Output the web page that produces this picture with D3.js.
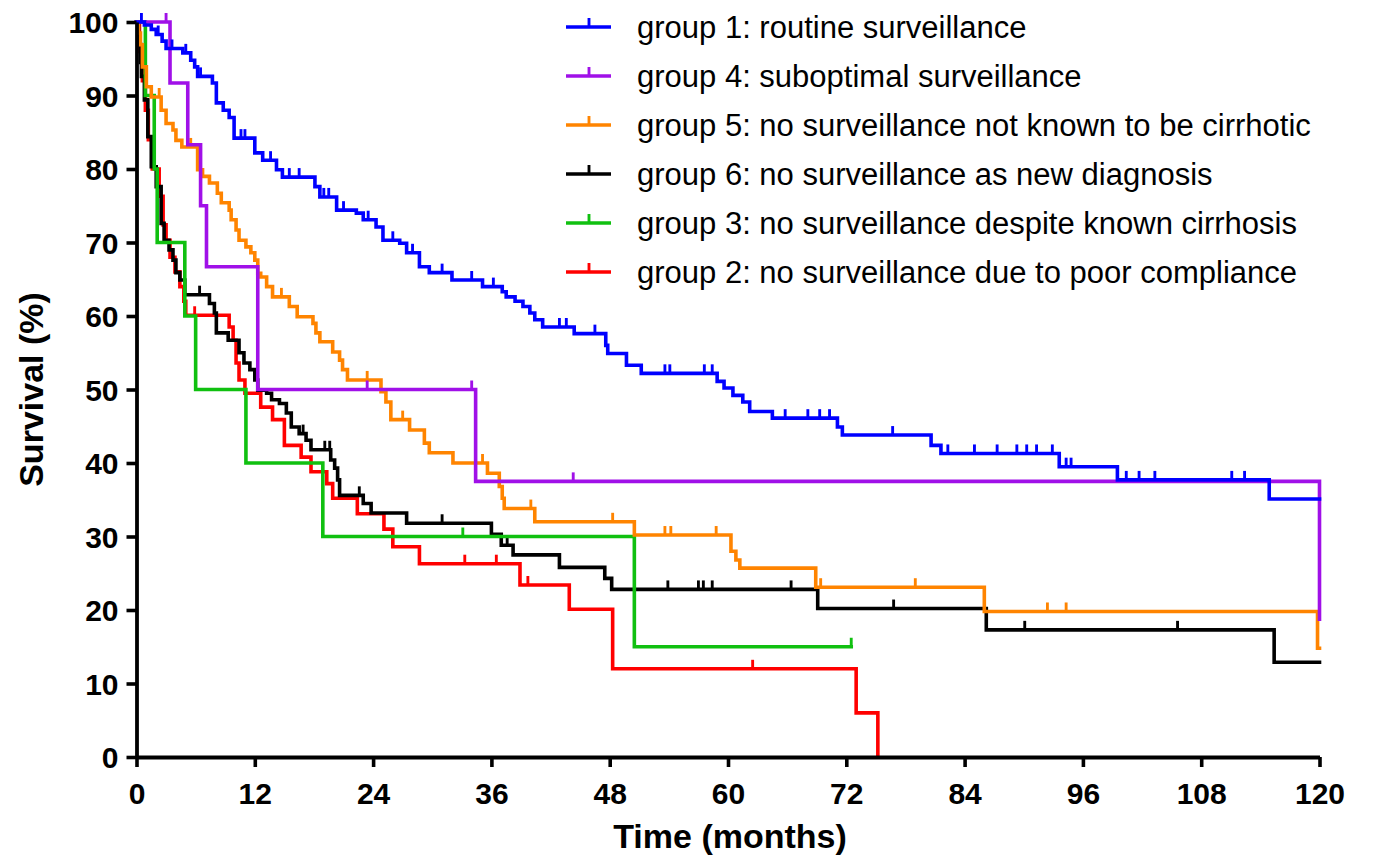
<!DOCTYPE html>
<html>
<head>
<meta charset="utf-8">
<script src="https://cdn.jsdelivr.net/npm/d3@7"></script>
<style>
  html, body { margin: 0; padding: 0; background: #fff; }
  svg { display: block; }
  text { font-family: "Liberation Sans", Arial, Helvetica, sans-serif; }
</style>
</head>
<body>
<svg id="chart" width="1375" height="860"></svg>
<script>
// ---------- data ----------
const xTicks = [0, 12, 24, 36, 48, 60, 72, 84, 96, 108, 120];
const yTicks = [0, 10, 20, 30, 40, 50, 60, 70, 80, 90, 100];
const xTitle = "Time (months)";
const yTitle = "Survival (%)";

const legendLabels = [
  "group 1: routine surveillance",
  "group 4: suboptimal surveillance",
  "group 5: no surveillance not known to be cirrhotic",
  "group 6: no surveillance as new diagnosis",
  "group 3: no surveillance despite known cirrhosis",
  "group 2: no surveillance due to poor compliance"
];
const legendColors = ["#0000ff", "#a010e8", "#ff8400", "#000000", "#10c010", "#ff0000"];

// step arrays: [time of event (months), survival after event (%)]
const g1Steps = [[0.8,99.6],[1.5,99],[2.0,98.3],[2.6,97.4],[3.0,96.4],[4.7,95.8],[5.5,94.8],[5.9,93.9],[6.2,92.6],[7.7,91.7],[8.1,89.0],[8.8,88.0],[9.4,87.0],[9.9,84.2],[12.0,82.2],[12.8,81.2],[14.2,79.9],[14.8,78.9],[18.1,77.6],[18.6,76.2],[20.3,74.4],[22.3,74.0],[23.0,73.1],[24.3,72.1],[25.0,70.3],[26.7,69.9],[27.4,68.6],[28.7,66.7],[29.7,65.9],[32.0,64.9],[35.1,64.0],[37.1,63.3],[37.5,62.6],[38.4,62.0],[39.2,61.3],[39.9,60.4],[40.4,59.5],[41.2,58.5],[44.4,57.6],[47.6,56.0],[47.8,54.9],[49.7,53.3],[51.2,52.2],[58.9,51.1],[59.6,50.2],[60.5,49.2],[61.5,48.3],[62.2,47.0],[64.5,46.1],[71.1,44.9],[71.6,43.8],[80.6,42.4],[81.6,41.3],[93.6,39.5],[99.5,37.7],[114.9,35.1]];
const g1Censors = [0.5,2.2,3.6,5.0,6.5,10.6,11.0,13.6,15.5,16.5,19.0,19.5,21.0,23.5,26.0,28.0,31.0,34.0,36.2,42.9,43.6,46.5,53.6,54.1,57.6,58.4,65.8,68.1,69.3,70.3,76.7,82.3,85.0,87.3,89.3,90.3,91.3,92.9,94.3,94.8,100.4,101.7,103.3,111.1,112.4];
const g1End = 120;

const g4Steps = [[3.4,91.7],[5.2,83.3],[6.5,75.0],[7.1,66.7],[12.3,50.0],[34.4,37.5],[120,18.75]];
const g4Censors = [3.0,23.4,34.0,44.3];
const g4End = 120;

const g5Steps = [[0.2,98.5],[0.4,96.9],[0.6,93.9],[1.0,91.2],[1.5,89.8],[2.5,88.0],[3.0,86.2],[3.7,85.3],[4.0,83.9],[4.6,83.0],[6.2,79.9],[6.7,79.0],[7.4,78.1],[8.2,76.7],[8.6,75.4],[9.4,74.4],[9.6,73.1],[10.1,71.7],[10.4,70.3],[11.1,69.4],[11.6,68.6],[12.0,67.6],[12.3,65.8],[12.6,65.3],[13.2,64.0],[13.8,62.6],[15.5,61.3],[16.3,59.9],[17.9,59.0],[18.2,57.7],[18.6,56.5],[19.9,55.1],[20.6,54.0],[20.9,52.7],[21.4,51.3],[24.8,49.7],[25.3,48.3],[25.8,45.9],[27.7,44.5],[29.2,42.7],[29.7,41.4],[32.1,40.0],[35.6,38.6],[36.8,36.8],[37.1,35.2],[37.3,33.8],[40.4,32.0],[50.5,30.2],[60.3,28.0],[60.8,26.8],[61.2,25.7],[68.9,23.1],[86.0,19.8],[119.8,14.8]];
const g5Censors = [2.3,5.5,14.7,23.4,27.0,35.1,40.0,48.3,53.6,54.2,58.8,69.4,79.0,92.4,94.3];
const g5End = 120;

const g6Steps = [[0.2,97.0],[0.4,94.5],[0.5,92.6],[0.8,89.4],[1.15,84.4],[1.5,80.3],[2.0,77.6],[2.5,72.6],[2.8,70.3],[3.3,69.0],[3.7,67.6],[4.0,65.9],[4.4,64.9],[4.9,62.9],[7.4,61.7],[7.9,60.4],[8.1,57.7],[9.3,56.7],[10.4,55.0],[10.9,53.6],[11.5,52.7],[12.0,51.3],[12.3,49.9],[13.2,49.5],[13.7,48.6],[14.5,48.1],[15.2,46.8],[15.7,44.9],[16.5,44.0],[17.2,43.1],[17.7,41.8],[19.7,40.4],[20.1,39.3],[20.4,37.7],[20.6,35.6],[23.0,34.5],[23.8,33.2],[27.4,31.8],[36.0,30.3],[37.0,28.8],[38.2,27.5],[42.9,25.8],[47.5,24.3],[48.2,22.8],[69.1,20.2],[86.2,17.3],[115.4,12.9]];
const g6Censors = [6.4,16.9,19.1,19.6,22.6,31.0,37.6,53.9,57.0,57.5,58.4,66.4,76.8,90.1,105.6];
const g6End = 120;

const g3Steps = [[0.9,90],[1.8,80],[2.1,70],[4.9,60],[6.0,50],[11.1,40],[18.9,30],[50.5,15]];
const g3Censors = [33.1,72.5];
const g3End = 72.5;

const g2Steps = [[0.3,96],[0.6,92],[0.9,88],[1.2,84],[1.6,80],[2.3,76.3],[2.7,72.4],[3.0,70.3],[3.4,68.0],[3.9,66.0],[4.4,64.0],[4.8,62.0],[5.0,60.1],[9.4,58.5],[9.8,56.7],[10.1,53.6],[10.4,51.3],[11.0,49.5],[12.6,47.6],[13.8,45.9],[15.0,42.4],[16.7,40.8],[17.7,38.8],[19.3,37.2],[19.9,35.2],[22.4,33.1],[25.1,31.0],[26.0,28.6],[28.7,26.3],[38.9,23.4],[43.9,20.1],[48.3,12.0],[73.0,6.0],[75.2,0]];
const g2Censors = [5.9,33.3,36.5,39.7,62.5];
const g2End = 75.2;

// drawing order (bottom to top)
const seriesList = [
  {steps: g2Steps, censors: g2Censors, end: g2End, color: legendColors[5]},
  {steps: g6Steps, censors: g6Censors, end: g6End, color: legendColors[3]},
  {steps: g3Steps, censors: g3Censors, end: g3End, color: legendColors[4]},
  {steps: g5Steps, censors: g5Censors, end: g5End, color: legendColors[2]},
  {steps: g4Steps, censors: g4Censors, end: g4End, color: legendColors[1]},
  {steps: g1Steps, censors: g1Censors, end: g1End, color: legendColors[0]}
];

// ---------- chart ----------
const svg = d3.select("#chart");
const x = d3.scaleLinear().domain([0, 120]).range([136.5, 1319.5]);
const y = d3.scaleLinear().domain([0, 100]).range([757, 22]);
const LW = 3.6;

function survAt(steps, t) {
  let v = 100;
  for (const [st, sv] of steps) { if (st <= t) v = sv; else break; }
  return v;
}

const line = d3.line().x(d => x(d[0])).y(d => y(d[1])).curve(d3.curveStepAfter);

seriesList.forEach(s => {
  const pts = [[0, 100], ...s.steps];
  const last = pts[pts.length - 1];
  if (s.end > last[0]) pts.push([s.end, last[1]]);
  svg.append("path")
    .attr("d", line(pts))
    .attr("fill", "none")
    .attr("stroke", s.color)
    .attr("stroke-width", LW)
    .attr("stroke-linejoin", "miter")
    .attr("stroke-linecap", "square");
  svg.append("g").selectAll("line")
    .data(s.censors)
    .join("line")
    .attr("x1", d => x(d)).attr("x2", d => x(d))
    .attr("y1", d => y(survAt(s.steps, d)))
    .attr("y2", d => y(survAt(s.steps, d)) - 9)
    .attr("stroke", s.color)
    .attr("stroke-width", LW * 0.8);
});

// axes
const yAxis = svg.append("g")
  .attr("transform", `translate(${x(0)},0)`)
  .call(d3.axisLeft(y).tickValues(yTicks).tickSize(10).tickSizeOuter(0).tickPadding(8));
const xAxis = svg.append("g")
  .attr("transform", `translate(0,${y(0)})`)
  .call(d3.axisBottom(x).tickValues(xTicks).tickSize(10).tickSizeOuter(0).tickPadding(16));

[yAxis, xAxis].forEach(a => {
  a.select(".domain").attr("stroke", "#000").attr("stroke-width", 3.8);
  a.selectAll(".tick line").attr("stroke", "#000").attr("stroke-width", 3.6);
  a.selectAll(".tick text")
    .attr("fill", "#000")
    .style("font-family", '"Liberation Sans", Arial, sans-serif')
    .style("font-weight", "bold")
    .style("font-size", "30px");
});
yAxis.selectAll(".tick text").attr("dy", "0.36em");

// axis titles
svg.append("text")
  .attr("x", (x(0) + x(120)) / 2 + 2)
  .attr("y", 848)
  .attr("text-anchor", "middle")
  .style("font-weight", "bold")
  .style("font-size", "34px")
  .text(xTitle);

svg.append("text")
  .attr("transform", `translate(43,${(y(0) + y(100)) / 2}) rotate(-90)`)
  .attr("text-anchor", "middle")
  .style("font-weight", "bold")
  .style("font-size", "34px")
  .text(yTitle);

// legend
const lg = svg.append("g");
legendLabels.forEach((lab, i) => {
  const ly = 27 + i * 49;
  lg.append("line").attr("x1", 566).attr("x2", 611).attr("y1", ly).attr("y2", ly)
    .attr("stroke", legendColors[i]).attr("stroke-width", LW);
  lg.append("line").attr("x1", 589).attr("x2", 589).attr("y1", ly).attr("y2", ly - 9)
    .attr("stroke", legendColors[i]).attr("stroke-width", LW * 0.8);
  lg.append("text").attr("x", 637).attr("y", ly + 11)
    .style("font-size", "31px").attr("fill", "#000").text(lab);
});
</script>
</body>
</html>
